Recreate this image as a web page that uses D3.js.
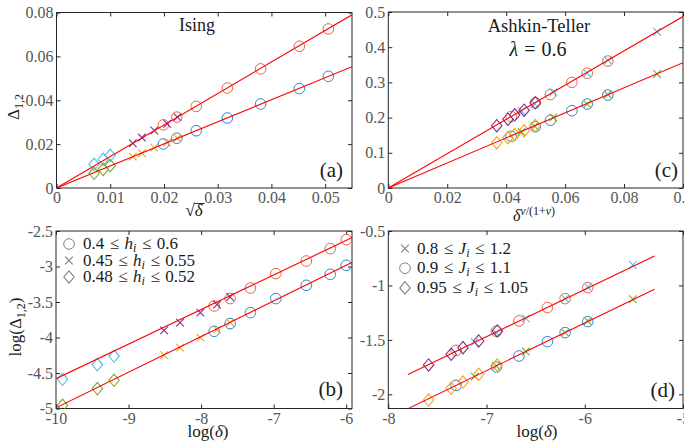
<!DOCTYPE html>
<html>
<head>
<meta charset="utf-8">
<script src="https://cdn.jsdelivr.net/npm/d3@7"></script>
<style>
  body { margin: 0; background: #fff; }
  svg { display: block; }
</style>
</head>
<body>
<svg id="fig" width="684" height="441"></svg>
<script>
// ---------- Ising: Delta_{1,2} vs sqrt(delta) ----------
const isingCircX      = [0.0199, 0.0224, 0.0260, 0.0318, 0.0380, 0.0452, 0.0506];
const isingCircUpper  = [0.0288, 0.0323, 0.0372, 0.0456, 0.0543, 0.0646, 0.0725];
const isingCircLower  = [0.0201, 0.0227, 0.0261, 0.0319, 0.0383, 0.0453, 0.0509];
const isingCrossX     = [0.0142, 0.0159, 0.0182, 0.0206, 0.0225];
const isingCrossUpper = [0.0204, 0.0230, 0.0262, 0.0293, 0.0323];
const isingCrossLower = [0.0143, 0.0159, 0.0184, 0.0207, 0.0227];
const isingDiamX      = [0.0070, 0.0087, 0.0100];
const isingDiamUpper  = [0.0108, 0.0131, 0.0149];
const isingDiamLower  = [0.0067, 0.0085, 0.0102];
const isingFitSlope   = [1.436, 1.005];

// ---------- Ising: log(Delta_{1,2}) vs log(delta) ----------
const isingLogCircX      = [-7.82, -7.60, -7.32, -6.97, -6.55, -6.22, -6.00];
const isingLogCircUpper  = [-3.556, -3.452, -3.303, -3.100, -2.923, -2.748, -2.621];
const isingLogCircLower  = [-3.913, -3.804, -3.649, -3.452, -3.265, -3.110, -2.983];
const isingLogCrossX     = [-8.51, -8.29, -8.01, -7.78, -7.60];
const isingLogCrossUpper = [-3.899, -3.790, -3.649, -3.537, -3.430];
const isingLogCrossLower = [-4.250, -4.142, -4.001, -3.889, -3.790];
const isingLogDiamX      = [-9.91, -9.43, -9.20];
const isingLogDiamUpper  = [-4.589, -4.382, -4.261];
const isingLogDiamLower  = [-4.955, -4.720, -4.603];
const isingLogFitSlope     = [0.487, 0.502];
const isingLogFitIntercept = [0.29, 0.03];
const isingLogFitRange     = [-10, -5.9];

// ---------- Ashkin-Teller: Delta_{1,2} vs delta^{nu/(1+nu)} ----------
const atCircX      = [0.0417, 0.0499, 0.0550, 0.0623, 0.0675, 0.0745];
const atCircUpper  = [0.203, 0.242, 0.2655, 0.300, 0.326, 0.3606];
const atCircLower  = [0.147, 0.174, 0.1924, 0.2196, 0.2386, 0.264];
const atCrossX     = [0.0452, 0.0497, 0.0560, 0.0675, 0.0745, 0.0912];
const atCrossUpper = [0.219, 0.2386, 0.272, 0.326, 0.363, 0.444];
const atCrossLower = [0.159, 0.1755, 0.2005, 0.2386, 0.2655, 0.324];
const atDiamX      = [0.0368, 0.0406, 0.0429, 0.0461, 0.0499];
const atDiamUpper  = [0.177, 0.1955, 0.208, 0.221, 0.242];
const atDiamLower  = [0.1285, 0.1431, 0.1515, 0.1627, 0.1773];
const atFitSlope   = [4.87, 3.56];

// ---------- Ashkin-Teller: log(Delta_{1,2}) vs log(delta) ----------
const atLogCircX      = [-7.31, -6.90, -6.67, -6.38, -6.20, -5.97];
const atLogCircUpper  = [-1.596, -1.420, -1.326, -1.203, -1.121, -1.020];
const atLogCircLower  = [-1.917, -1.749, -1.648, -1.516, -1.433, -1.332];
const atLogCrossX     = [-7.12, -6.90, -6.60, -6.20, -5.97, -5.51];
const atLogCrossUpper = [-1.519, -1.433, -1.302, -1.121, -1.014, -0.812];
const atLogCrossLower = [-1.837, -1.740, -1.607, -1.433, -1.326, -1.127];
const atLogDiamX      = [-7.59, -7.36, -7.24, -7.08, -6.89];
const atLogDiamUpper  = [-1.730, -1.632, -1.571, -1.510, -1.418];
const atLogDiamLower  = [-2.052, -1.944, -1.887, -1.816, -1.730];
const atLogFitSlope     = [0.4335, 0.437];
const atLogFitIntercept = [1.564, 1.277];
const atLogFitRange     = [-7.8, -5.29];

// ---------- ticks ----------
const ticksAX = [0, 0.01, 0.02, 0.03, 0.04, 0.05];
const labelsAX = ["0", "0.01", "0.02", "0.03", "0.04", "0.05"];
const ticksAY = [0, 0.02, 0.04, 0.06, 0.08];
const labelsAY = ["0", "0.02", "0.04", "0.06", "0.08"];
const ticksBX = [-10, -9, -8, -7, -6];
const labelsBX = ["-10", "-9", "-8", "-7", "-6"];
const ticksBY = [-5, -4.5, -4, -3.5, -3, -2.5];
const labelsBY = ["-5", "-4.5", "-4", "-3.5", "-3", "-2.5"];
const ticksCX = [0, 0.02, 0.04, 0.06, 0.08, 0.1];
const labelsCX = ["0", "0.02", "0.04", "0.06", "0.08", "0.1"];
const ticksCY = [0, 0.1, 0.2, 0.3, 0.4, 0.5];
const labelsCY = ["0", "0.1", "0.2", "0.3", "0.4", "0.5"];
const ticksDX = [-8, -7, -6, -5];
const labelsDX = ["-8", "-7", "-6", "-5"];
const ticksDY = [-2, -1.5, -1, -0.5];
const labelsDY = ["-2", "-1.5", "-1", "-0.5"];

const legendIsing = [
  { shape: "circle",  lo: "0.4",  hi: "0.6",  v: "h" },
  { shape: "cross",   lo: "0.45", hi: "0.55", v: "h" },
  { shape: "diamond", lo: "0.48", hi: "0.52", v: "h" }
];
const legendAT = [
  { shape: "cross",   lo: "0.8",  hi: "1.2",  v: "J" },
  { shape: "circle",  lo: "0.9",  hi: "1.1",  v: "J" },
  { shape: "diamond", lo: "0.95", hi: "1.05", v: "J" }
];

const C = {
  blue: "#2a87d2", orange: "#e2693c", yellow: "#f2a51c",
  purple: "#7e2f8e", green: "#77ac30", cyan: "#4dbeee",
  fit: "#ff0000", axis: "#262626", tick: "#555555", legend: "#808080"
};
const SERIF = '"Liberation Serif"';

const svg = d3.select("#fig");
const defs = svg.append("defs");

function markerPath(shape) {
  if (shape === "diamond") return "M0,-6.2L5.2,0L0,6.2L-5.2,0Z";
  if (shape === "cross") return "M-3.8,-3.8L3.8,3.8M-3.8,3.8L3.8,-3.8";
  return "";
}

function drawMarkers(g, xs, ys, shape, color, x, y) {
  const sel = g.append("g").selectAll("*").data(xs.map((d, i) => [d, ys[i]]));
  if (shape === "circle") {
    sel.join("circle")
      .attr("cx", d => x(d[0])).attr("cy", d => y(d[1])).attr("r", 5.3)
      .attr("fill", "none").attr("stroke", color).attr("stroke-width", 1);
  } else {
    sel.join("path")
      .attr("transform", d => `translate(${x(d[0])},${y(d[1])})`)
      .attr("d", markerPath(shape))
      .attr("fill", "none").attr("stroke", color).attr("stroke-width", 1.1);
  }
}

function makePanel(cfg) {
  const g = svg.append("g");
  const x = d3.scaleLinear().domain(cfg.xDomain).range([cfg.left, cfg.right]);
  const y = d3.scaleLinear().domain(cfg.yDomain).range([cfg.bottom, cfg.top]);

  defs.append("clipPath").attr("id", "clip-" + cfg.id).append("rect")
    .attr("x", cfg.left).attr("y", cfg.top)
    .attr("width", cfg.right - cfg.left).attr("height", cfg.bottom - cfg.top);

  const styleAxis = sel => {
    sel.attr("font-family", null).attr("font-size", null);
    sel.select(".domain").remove();
    sel.selectAll(".tick line").attr("stroke", C.axis);
    sel.selectAll(".tick text").attr("fill", C.tick)
      .style("font-family", SERIF).style("font-size", "16px");
  };
  g.append("g").attr("transform", `translate(0,${cfg.bottom})`)
    .call(d3.axisBottom(x).tickValues(cfg.xTicks).tickFormat((d, i) => cfg.xLabels[i])
      .tickSizeInner(-4).tickSizeOuter(0).tickPadding(4)).call(styleAxis);
  g.append("g").attr("transform", `translate(0,${cfg.top})`)
    .call(d3.axisTop(x).tickValues(cfg.xTicks).tickFormat("")
      .tickSizeInner(-4).tickSizeOuter(0)).call(styleAxis);
  g.append("g").attr("transform", `translate(${cfg.left},0)`)
    .call(d3.axisLeft(y).tickValues(cfg.yTicks).tickFormat((d, i) => cfg.yLabels[i])
      .tickSizeInner(-4).tickSizeOuter(0).tickPadding(3)).call(styleAxis);
  g.append("g").attr("transform", `translate(${cfg.right},0)`)
    .call(d3.axisRight(y).tickValues(cfg.yTicks).tickFormat("")
      .tickSizeInner(-4).tickSizeOuter(0)).call(styleAxis);

  g.append("rect").attr("x", cfg.left).attr("y", cfg.top)
    .attr("width", cfg.right - cfg.left).attr("height", cfg.bottom - cfg.top)
    .attr("fill", "none").attr("stroke", C.axis).attr("stroke-width", 1);

  const plot = g.append("g").attr("clip-path", `url(#clip-${cfg.id})`);
  cfg.series.forEach(s => drawMarkers(plot, s.x, s.y, s.shape, s.color, x, y));

  const line = d3.line().x(d => x(d[0])).y(d => y(d[1]));
  cfg.fits.forEach(f => {
    const pts = f.range.map(v => [v, f.slope * v + f.intercept]);
    plot.append("path").attr("d", line(pts))
      .attr("fill", "none").attr("stroke", C.fit).attr("stroke-width", 1.1);
  });

  g.append("text").attr("x", cfg.tag.x).attr("y", cfg.tag.y)
    .attr("text-anchor", "end")
    .style("font-family", SERIF).style("font-size", "21px")
    .attr("fill", "#1a1a1a").text(cfg.tag.text);
  return { g, x, y };
}

// (a)
makePanel({
  id: "a", left: 56.5, right: 352, top: 12.5, bottom: 188,
  xDomain: [0, 0.055], yDomain: [0, 0.08],
  xTicks: ticksAX, xLabels: labelsAX, yTicks: ticksAY, yLabels: labelsAY,
  series: [
    { x: isingCircX, y: isingCircUpper, shape: "circle", color: C.orange },
    { x: isingCircX, y: isingCircLower, shape: "circle", color: C.blue },
    { x: isingCrossX, y: isingCrossUpper, shape: "cross", color: C.purple },
    { x: isingCrossX, y: isingCrossLower, shape: "cross", color: C.yellow },
    { x: isingDiamX, y: isingDiamUpper, shape: "diamond", color: C.cyan },
    { x: isingDiamX, y: isingDiamLower, shape: "diamond", color: C.green }
  ],
  fits: isingFitSlope.map(s => ({ slope: s, intercept: 0, range: [0, 0.055] })),
  tag: { text: "(a)", x: 343, y: 177 }
});

// (b)
makePanel({
  id: "b", left: 56, right: 352, top: 231, bottom: 408.5,
  xDomain: [-10, -5.92], yDomain: [-5, -2.5],
  xTicks: ticksBX, xLabels: labelsBX, yTicks: ticksBY, yLabels: labelsBY,
  series: [
    { x: isingLogCircX, y: isingLogCircUpper, shape: "circle", color: C.orange },
    { x: isingLogCircX, y: isingLogCircLower, shape: "circle", color: C.blue },
    { x: isingLogCrossX, y: isingLogCrossUpper, shape: "cross", color: C.purple },
    { x: isingLogCrossX, y: isingLogCrossLower, shape: "cross", color: C.yellow },
    { x: isingLogDiamX, y: isingLogDiamUpper, shape: "diamond", color: C.cyan },
    { x: isingLogDiamX, y: isingLogDiamLower, shape: "diamond", color: C.green }
  ],
  fits: isingLogFitSlope.map((s, i) => ({ slope: s, intercept: isingLogFitIntercept[i], range: isingLogFitRange })),
  tag: { text: "(b)", x: 343, y: 396 }
});

// (c)
makePanel({
  id: "c", left: 388.3, right: 683, top: 12, bottom: 188,
  xDomain: [0, 0.1], yDomain: [0, 0.5],
  xTicks: ticksCX, xLabels: labelsCX, yTicks: ticksCY, yLabels: labelsCY,
  series: [
    { x: atCircX, y: atCircUpper, shape: "circle", color: C.orange },
    { x: atCircX, y: atCircLower, shape: "circle", color: C.blue },
    { x: atCrossX, y: atCrossUpper, shape: "cross", color: C.cyan },
    { x: atCrossX, y: atCrossLower, shape: "cross", color: C.green },
    { x: atDiamX, y: atDiamUpper, shape: "diamond", color: C.purple },
    { x: atDiamX, y: atDiamLower, shape: "diamond", color: C.yellow }
  ],
  fits: atFitSlope.map(s => ({ slope: s, intercept: 0, range: [0, 0.1] })),
  tag: { text: "(c)", x: 678, y: 177 }
});

// (d)
makePanel({
  id: "d", left: 388.3, right: 683, top: 231, bottom: 408.5,
  xDomain: [-8, -5], yDomain: [-2.13, -0.5],
  xTicks: ticksDX, xLabels: labelsDX, yTicks: ticksDY, yLabels: labelsDY,
  series: [
    { x: atLogCircX, y: atLogCircUpper, shape: "circle", color: C.orange },
    { x: atLogCircX, y: atLogCircLower, shape: "circle", color: C.blue },
    { x: atLogCrossX, y: atLogCrossUpper, shape: "cross", color: C.cyan },
    { x: atLogCrossX, y: atLogCrossLower, shape: "cross", color: C.green },
    { x: atLogDiamX, y: atLogDiamUpper, shape: "diamond", color: C.purple },
    { x: atLogDiamX, y: atLogDiamLower, shape: "diamond", color: C.yellow }
  ],
  fits: atLogFitSlope.map((s, i) => ({ slope: s, intercept: atLogFitIntercept[i], range: atLogFitRange })),
  tag: { text: "(d)", x: 675, y: 397 }
});

// ---------- titles ----------
function label(x, y, size, anchor) {
  return svg.append("text").attr("x", x).attr("y", y)
    .style("font-family", SERIF).style("font-size", size + "px")
    .attr("text-anchor", anchor || "middle").attr("fill", "#1a1a1a");
}
label(197, 31, 18).text("Ising");
label(539, 32, 18.5).text("Ashkin-Teller");
const lam = label(538, 56, 20);
lam.append("tspan").attr("font-style", "italic").text("λ");
lam.append("tspan").attr("dx", 6).text("=");
lam.append("tspan").attr("dx", 6).text("0.6");

// ---------- axis labels ----------
// Delta_{1,2}
const ya = label(0, 0, 17).attr("transform", "translate(19,107) rotate(-90)");
ya.append("tspan").text("Δ");
ya.append("tspan").style("font-size", "12px").attr("dy", 4).text("1,2");

// sqrt(delta) with an overbar on the radicand
const sq = label(194, 216, 17);
sq.append("tspan").text("√");
sq.append("tspan").attr("font-style", "italic").text("δ");
{
  const bb = sq.node().getBBox();
  svg.append("line").attr("x1", bb.x + 9).attr("x2", bb.x + bb.width + 1)
    .attr("y1", bb.y + 2.5).attr("y2", bb.y + 2.5)
    .attr("stroke", "#1a1a1a").attr("stroke-width", 0.9);
}

// delta^{nu/(1+nu)}
const dx = label(534, 221, 16);
dx.append("tspan").attr("font-style", "italic").text("δ");
const sup = dx.append("tspan").attr("dy", -6).style("font-size", "12px");
sup.append("tspan").attr("font-style", "italic").text("ν");
sup.append("tspan").text("/(1+");
sup.append("tspan").attr("font-style", "italic").text("ν");
sup.append("tspan").text(")");

// log(Delta_{1,2})
const yb = label(0, 0, 17).attr("transform", "translate(21,327) rotate(-90)");
yb.append("tspan").text("log(Δ");
yb.append("tspan").style("font-size", "12px").attr("dy", 4).text("1,2");
yb.append("tspan").attr("dy", -4).text(")");

// log(delta)
[208, 537].forEach(cx => {
  const t = label(cx, 437, 17);
  t.append("tspan").text("log(");
  t.append("tspan").attr("font-style", "italic").text("δ");
  t.append("tspan").text(")");
});

// ---------- legends ----------
function legend(items, mx, tx, y0, dy) {
  items.forEach((it, i) => {
    const yy = y0 + i * dy;
    if (it.shape === "circle") {
      svg.append("circle").attr("cx", mx).attr("cy", yy).attr("r", 5.3)
        .attr("fill", "none").attr("stroke", C.legend).attr("stroke-width", 1);
    } else {
      svg.append("path").attr("transform", `translate(${mx},${yy})`)
        .attr("d", markerPath(it.shape)).attr("fill", "none")
        .attr("stroke", C.legend).attr("stroke-width", 1.1);
    }
    const gap = 5.5;
    const t = label(tx, yy + 5, 17, "start");
    t.append("tspan").text(it.lo);
    t.append("tspan").attr("dx", gap).text("≤");
    t.append("tspan").attr("dx", gap).attr("font-style", "italic").text(it.v);
    t.append("tspan").attr("font-style", "italic").style("font-size", "12px").attr("dy", 3).text("i");
    t.append("tspan").attr("dx", gap).attr("dy", -3).text("≤");
    t.append("tspan").attr("dx", gap).text(it.hi);
  });
}
legend(legendIsing, 69, 83, 244, 16.5);
legend(legendAT, 405, 417, 248.5, 19.7);
</script>
</body>
</html>
